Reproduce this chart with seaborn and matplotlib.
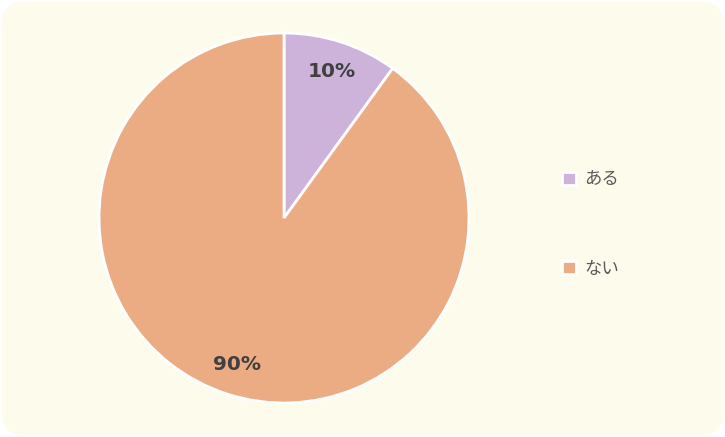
import matplotlib.pyplot as plt
import seaborn as sns
from matplotlib.patches import FancyBboxPatch

# Data
labels = ['ある', 'ない']
values = [10, 90]
colors = ['#CDB3D9', '#ECAC83']

sns.set_style("white")
plt.rcParams['font.family'] = ['Noto Sans CJK JP', 'DejaVu Sans']

fig = plt.figure(figsize=(7.25, 4.37), dpi=100)
fig.patch.set_facecolor('white')

# Rounded cream background
bg = FancyBboxPatch((2 / 725, 2 / 437), 721 / 725, 433 / 437,
                    boxstyle="round,pad=0,rounding_size=0.03",
                    transform=fig.transFigure, facecolor='#FDFBEC',
                    edgecolor='none', mutation_aspect=725 / 437, zorder=-5)
fig.patches.append(bg)

ax = fig.add_axes([99 / 725, 34 / 437, 370 / 725, 370 / 437])
ax.set_facecolor('none')
ax.set_zorder(1)

wedges, texts, autotexts = ax.pie(
    values, colors=colors, startangle=90, counterclock=False,
    autopct='%1.0f%%', pctdistance=0.83,
    wedgeprops=dict(edgecolor='white', linewidth=2),
    textprops=dict(color='#404040', fontsize=14.5, fontweight='bold',
                   family='DejaVu Sans'))
ax.set_xlim(-1, 1)
ax.set_ylim(-1, 1)
ax.axis('off')

leg = fig.legend(wedges, labels, loc='center left',
                 bbox_to_anchor=(562 / 725, 213 / 437), frameon=False,
                 fontsize=12.5, labelcolor='#595959',
                 handlelength=0.8, handleheight=0.8, handletextpad=0.5,
                 labelspacing=4.1, borderpad=0, borderaxespad=0)
leg.set_zorder(2)

plt.savefig('out.png', dpi=100)
